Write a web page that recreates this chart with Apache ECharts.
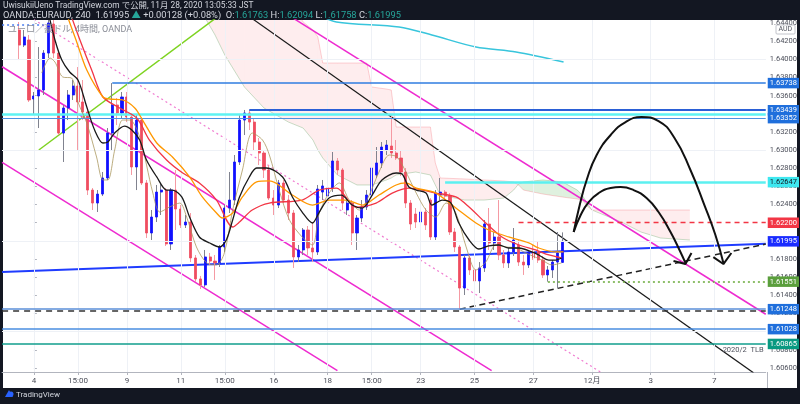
<!DOCTYPE html>
<html><head><meta charset="utf-8">
<script src="https://cdn.jsdelivr.net/npm/echarts@6/dist/echarts.min.js"></script>
<style>html,body{margin:0;padding:0;background:#131722;}#c{width:800px;height:404px;}</style>
</head><body><div id="c"></div>
<script>
// ---------- axes ----------
const firstIdx = -6, lastIdx = 149;
const timeLabelIdx  = [0, 9, 19, 30, 39, 49, 60, 69, 79, 90, 102, 114, 126, 139];
const timeLabelText = ['4','15:00','9','11','15:00','16','18','15:00','23','25','27','12月','3','7'];
const priceTicks = [1.606,1.608,1.610,1.612,1.614,1.616,1.618,1.620,1.622,1.624,1.626,1.628,1.630,1.632,1.634,1.636,1.638,1.640,1.642,1.644];
const yMin = 1.60556, yMax = 1.64433;

// ---------- candles (bar index candleStart .. ) ----------
const candleStart = -3;
const opens = [1.64323,1.64157,1.64213,1.63563,1.63596,1.63662,1.64069,1.64389,1.64069,1.63188,1.63464,1.63607,1.63706,1.63530,1.63419,1.62560,1.62417,1.62516,1.62693,1.63188,1.63497,1.63408,1.63585,1.63364,1.62814,1.63331,1.62638,1.62087,1.62263,1.62538,1.62560,1.61966,1.62560,1.62351,1.62175,1.62208,1.61812,1.61581,1.61515,1.61823,1.61778,1.61757,1.61933,1.62362,1.62450,1.62869,1.63331,1.63408,1.63309,1.63089,1.62968,1.62781,1.62472,1.62395,1.62638,1.62450,1.62307,1.61823,1.61900,1.62120,1.61922,1.61878,1.62538,1.62494,1.62582,1.62880,1.62781,1.62340,1.62417,1.62087,1.62252,1.62373,1.62505,1.62726,1.62858,1.63001,1.63045,1.62968,1.62913,1.62759,1.62417,1.62296,1.62208,1.62318,1.62450,1.62043,1.62505,1.62538,1.62494,1.62098,1.61933,1.61481,1.61812,1.61680,1.61559,1.61702,1.62186,1.61977,1.62043,1.61845,1.61757,1.61878,1.61955,1.61767,1.61735,1.61878,1.61878,1.61789,1.61625,1.61680,1.61767,1.61763];
const closes = [1.64157,1.64246,1.63552,1.63596,1.63662,1.64069,1.64400,1.64069,1.63188,1.63464,1.63607,1.63706,1.63530,1.63419,1.62560,1.62417,1.62516,1.62693,1.63188,1.63497,1.63408,1.63585,1.63364,1.62814,1.63331,1.62638,1.62087,1.62263,1.62538,1.62560,1.61966,1.62560,1.62351,1.62175,1.62208,1.61812,1.61581,1.61515,1.61823,1.61778,1.61757,1.61933,1.62362,1.62450,1.62869,1.63331,1.63408,1.63309,1.63089,1.62968,1.62781,1.62472,1.62395,1.62638,1.62450,1.62307,1.61823,1.61900,1.62120,1.61922,1.61878,1.62571,1.62605,1.62582,1.62880,1.62781,1.62417,1.62417,1.62087,1.62252,1.62373,1.62505,1.62803,1.62858,1.63034,1.63056,1.62968,1.62913,1.62759,1.62417,1.62186,1.62208,1.62318,1.62175,1.62043,1.62527,1.62538,1.62494,1.62098,1.61933,1.61481,1.61812,1.61680,1.61559,1.61702,1.62186,1.61977,1.62043,1.61845,1.61757,1.61878,1.62010,1.61767,1.61735,1.61878,1.61812,1.61789,1.61625,1.61680,1.61767,1.61867,1.61995];
const lows = [1.63992,1.64135,1.63530,1.63386,1.63243,1.63607,1.64014,1.64014,1.63166,1.62869,1.63331,1.63552,1.63001,1.63331,1.62505,1.62340,1.62318,1.62494,1.62671,1.63001,1.63276,1.63353,1.63309,1.62726,1.62560,1.62616,1.62032,1.62010,1.62208,1.62285,1.61944,1.61900,1.62120,1.62142,1.62142,1.61767,1.61548,1.61470,1.61493,1.61735,1.61570,1.61713,1.61878,1.62307,1.62395,1.62836,1.63166,1.63221,1.63001,1.62836,1.62693,1.62450,1.62285,1.62362,1.62417,1.62230,1.61702,1.61767,1.61845,1.61845,1.61767,1.61845,1.62450,1.62450,1.62538,1.62726,1.62340,1.62285,1.61955,1.61900,1.62208,1.62340,1.62472,1.62693,1.62803,1.62946,1.62913,1.62891,1.62715,1.62362,1.62120,1.62142,1.62142,1.62120,1.62010,1.62010,1.62450,1.62450,1.62065,1.61878,1.61248,1.61404,1.61625,1.61504,1.61426,1.61658,1.61900,1.61900,1.61789,1.61702,1.61702,1.61834,1.61724,1.61625,1.61702,1.61789,1.61757,1.61592,1.61551,1.61592,1.61481,1.61758];
const highs = [1.64411,1.64323,1.64268,1.63640,1.64135,1.64102,1.64433,1.64433,1.64102,1.63497,1.63662,1.63772,1.63915,1.63772,1.63464,1.62582,1.62560,1.62759,1.63243,1.63738,1.63574,1.63640,1.63640,1.63408,1.63386,1.63364,1.62671,1.62340,1.62616,1.62638,1.62582,1.62582,1.62781,1.62395,1.62285,1.62307,1.61845,1.61614,1.61900,1.61867,1.61845,1.61955,1.62395,1.62759,1.62946,1.63386,1.63442,1.63442,1.63353,1.63133,1.63001,1.62836,1.62560,1.62671,1.62671,1.62505,1.62340,1.61955,1.62142,1.62164,1.62208,1.62616,1.62671,1.62649,1.62979,1.62913,1.62803,1.62472,1.62450,1.62285,1.62450,1.62560,1.62836,1.63034,1.63089,1.63111,1.63386,1.63111,1.63001,1.62803,1.62450,1.62362,1.62362,1.62362,1.62472,1.62560,1.62693,1.62560,1.62527,1.62142,1.61955,1.61845,1.61845,1.61724,1.61767,1.62230,1.62362,1.62098,1.62450,1.61900,1.61922,1.62142,1.62010,1.61845,1.61900,1.61955,1.61988,1.61834,1.61724,1.61789,1.62098,1.62094];

// ---------- moving averages [bar index, price] ----------
const maBlack = [[3.0,1.6450],[4.3,1.64213],[5.7,1.63992],[7.3,1.63860],[9.0,1.63772],[10.8,1.63475],[12.4,1.63221],[14.1,1.63078],[15.1,1.63089],[16.5,1.63188],[18.5,1.63265],[20.0,1.63221],[21.6,1.63111],[23.0,1.62891],[25.1,1.62704],[27.1,1.62560],[28.3,1.62560],[30.2,1.62484],[31.8,1.62263],[33.8,1.62043],[35.9,1.61977],[37.9,1.61933],[39.3,1.62010],[40.6,1.62230],[42.0,1.62484],[44.0,1.62704],[45.5,1.62803],[47.5,1.62803],[50.8,1.62704],[52.8,1.62484],[54.8,1.62318],[56.9,1.62197],[58.3,1.62318],[60.3,1.62472],[62.8,1.62505],[65.0,1.62395],[67.1,1.62362],[69.1,1.62505],[71.1,1.62671],[74.0,1.62748],[75.2,1.62737],[76.6,1.62594],[78.1,1.62560],[80.1,1.62527],[81.3,1.62395],[83.4,1.62450],[85.2,1.62417],[86.8,1.62197],[88.9,1.62010],[90.9,1.61911],[92.9,1.61944],[95.0,1.61955],[97.0,1.61922],[99.1,1.61922],[101.7,1.61878],[103.1,1.61845],[105.2,1.61789],[106.6,1.61789],[107.8,1.61812]];
const maOrange = [[7.0,1.6445],[8.6,1.64213],[10.8,1.63882],[14.1,1.63585],[15.5,1.63563],[18.1,1.63552],[20.6,1.63464],[22.2,1.63331],[25.1,1.63078],[28.3,1.62924],[31.8,1.62704],[34.4,1.62484],[37.3,1.62307],[38.5,1.62252],[40.6,1.62307],[42.6,1.62484],[45.5,1.62649],[48.1,1.62660],[52.8,1.62505],[56.9,1.62395],[60.3,1.62450],[63.8,1.62450],[67.1,1.62395],[70.5,1.62505],[74.0,1.62616],[76.0,1.62638],[78.1,1.62582],[82.1,1.62527],[86.2,1.62362],[90.3,1.62197],[92.9,1.62120],[97.0,1.62043],[101.1,1.61977],[103.1,1.61922],[106.6,1.61878],[108.2,1.61878]];
const maRed = [[7.8,1.6445],[9.4,1.64213],[11.8,1.63882],[14.1,1.63585],[17.5,1.63464],[21.0,1.63353],[23.6,1.63111],[27.1,1.62891],[30.4,1.62748],[33.8,1.62638],[37.3,1.62450],[40.6,1.62153],[42.0,1.62208],[44.6,1.62340],[48.1,1.62417],[54.8,1.62450],[58.3,1.62560],[61.8,1.62582],[65.8,1.62373],[69.9,1.62417],[73.2,1.62527],[76.6,1.62582],[82.1,1.62527],[86.2,1.62484],[88.9,1.62373],[92.3,1.62197],[95.6,1.62043],[99.1,1.61955],[102.5,1.61900],[105.2,1.61845],[107.8,1.61812]];
const maKhaki = [[1.6,1.63849],[3.3,1.64014],[4.3,1.63970],[5.9,1.63805],[7.7,1.63794],[9.0,1.63530],[10.8,1.63298],[12.8,1.62924],[14.1,1.62671],[15.1,1.62671],[16.5,1.63001],[18.1,1.63331],[19.6,1.63331],[21.6,1.63144],[24.3,1.62527],[25.7,1.62318],[27.7,1.62373],[29.8,1.62417],[31.2,1.62263],[33.2,1.61933],[35.3,1.61757],[37.3,1.61735],[38.9,1.61867],[40.6,1.62340],[42.6,1.62781],[44.6,1.63188],[46.7,1.63111],[48.1,1.62946],[50.1,1.62560],[52.2,1.62230],[54.8,1.62043],[56.9,1.61955],[58.3,1.62307],[60.3,1.62527],[62.4,1.62638],[64.4,1.62450],[66.5,1.62340],[68.5,1.62505],[70.5,1.62759],[72.6,1.62946],[74.2,1.62924],[76.0,1.62759],[78.1,1.62527],[80.1,1.62340],[82.1,1.62263],[84.2,1.62417],[86.2,1.62307],[88.3,1.61933],[90.3,1.61680],[92.3,1.61767],[94.4,1.61955],[96.4,1.61933],[98.5,1.61922],[100.5,1.61867],[103.8,1.61789],[105.8,1.61735],[107.8,1.61757]];
const maCyan = [[58,1.6450],[61.8,1.64411],[74.6,1.64356],[81.3,1.64268],[90.3,1.64135],[98.5,1.64080],[108.2,1.63970]];

// ---------- ichimoku cloud ----------
const spanIdx = [35,37,39,43,47,52,55,57,58,59,62,66,68,69,72,73,74,78,81,82,83,88,92,96,98,99,100,104,108,111,112,113,114,116,120,124,128,134];
const spanB = [1.64708,1.64708,1.64708,1.64708,1.64708,1.64653,1.64411,1.64323,1.64246,1.63959,1.63959,1.63959,1.63959,1.63695,1.63673,1.63662,1.63254,1.63254,1.63254,1.62858,1.62693,1.62682,1.62671,1.62660,1.62649,1.62616,1.62560,1.62516,1.62483,1.62461,1.62450,1.62384,1.62340,1.62340,1.62340,1.62340,1.62340,1.62340];
const spanA = [1.64455,1.64268,1.64047,1.63695,1.63464,1.63309,1.63243,1.63111,1.63001,1.62913,1.62726,1.62616,1.62616,1.62616,1.62671,1.62693,1.62726,1.62759,1.62726,1.62616,1.62505,1.62450,1.62450,1.62472,1.62560,1.62626,1.62649,1.62671,1.62649,1.62560,1.62505,1.62417,1.62340,1.62296,1.62208,1.62098,1.62032,1.62010];

// ---------- drawings [bar index, price] ----------
const blackDiag   = [[44,1.64471],[147,1.60547]];
const magentaUp   = [[53,1.64452],[149.5,1.61192]];
const magentaMid  = [[-6.5,1.63918],[93.5,1.60570]];
const magentaLow  = [[-6.5,1.62864],[62,1.60570]];
const pinkDotted  = [[0,1.64438],[116,1.60547]];
const greenLine   = [[1,1.63001],[37.5,1.64468]];
const blueTrend   = [[-6.5,1.61657],[149.5,1.61969]];
const dashedRise  = [[87,1.61248],[149.5,1.61965]];
const arcBig   = [[110.27,1.62098],[111.5,1.62395],[112.92,1.62671],[114.96,1.62946],[117.82,1.63166],[120.87,1.63309],[124.13,1.63364],[127.6,1.63320],[130.86,1.63133],[134.12,1.62781],[136.97,1.62395],[139.22,1.62065],[140.85,1.61757]];
const arcSmall = [[110.27,1.62098],[111.7,1.62285],[113.33,1.62428],[115.37,1.62527],[117.82,1.62582],[119.85,1.62593],[122.5,1.62560],[125.15,1.62472],[127.6,1.62318],[130.05,1.62098],[131.88,1.61900],[133.1,1.61757]];
const headBig   = [[138.8,1.61822],[140.85,1.61745],[142.48,1.61867]];
const headSmall = [[130.66,1.61778],[133.1,1.61745],[134.33,1.61867]];

// ---------- horizontal levels ----------
const levelPrices = [1.63738,1.63439,1.63390,1.63352,1.62647,1.62200,1.61551,1.61248,1.61232,1.61028,1.60865,1.64378];
const levelStart  = [16,44,-6.5,-6.5,84,99,105,-6.5,-6.5,-6.5,-6.5,-6.5];
const levelEnd    = [149.5,149.5,149.5,149.5,149.5,149.5,149.5,149.5,149.5,149.5,149.5,2];
const levelNote = '2020/2  TLB';

// ---------- styles ----------
const levelStyles = [
  {c:'#2f7de1', w:1.5, t:'solid', bg:'#1f6fdc', fg:'#fff'},
  {c:'#2a5fd6', w:2,   t:'solid', bg:'#1f6fdc', fg:'#fff'},
  {c:'#5ef3f3', w:2.5, t:'solid', bg:null},
  {c:'#4a90e2', w:1,   t:'solid', bg:'#1f6fdc', fg:'#fff'},
  {c:'#5cf0f0', w:2.5, t:'solid', bg:'#3ee8f0', fg:'#131722'},
  {c:'#f23645', w:1.3, t:[5,4],   bg:'#f23645', fg:'#fff'},
  {c:'#6aaa3a', w:1.5, t:[2,3],   bg:'#5a9e3c', fg:'#fff'},
  {c:'#5b8fd9', w:1.5, t:'solid', bg:'#1f6fdc', fg:'#fff'},
  {c:'#333333', w:1.5, t:[6,5],   bg:null},
  {c:'#4a8ee0', w:1.5, t:'solid', bg:'#1f6fdc', fg:'#fff'},
  {c:'#119e8c', w:1.5, t:'solid', bg:'#089981', fg:'#fff'},
  {c:'#4a7df0', w:1.5, t:[2,3],   bg:null}
];
const UP='#1010ff', DOWN='#ef4d60', UPW='#80838f', DOWNW='#f59aa3';
const FONT = 'Roboto, "Noto Sans CJK JP", sans-serif';
const CLEAR = 'rgba(0,0,0,0)';

// ---------- build ----------
const cats = [];
for (let i = firstIdx; i <= lastIdx; i++) cats.push(String(i));
const labelMap = {};
timeLabelIdx.forEach((k, j) => labelMap[String(k)] = timeLabelText[j]);
const isLabel = (index, value) => labelMap[value] !== undefined;

const wickData = cats.map(c => {
  const k = +c - candleStart;
  return (k >= 0 && k < opens.length) ? [opens[k], closes[k], lows[k], highs[k]] : '-';
});
const bodyData = cats.map(c => {
  const k = +c - candleStart;
  return (k >= 0 && k < opens.length) ? [opens[k], closes[k], Math.min(opens[k], closes[k]), Math.max(opens[k], closes[k])] : '-';
});
const n = opens.length;
const lastClose = closes[n-1], prevClose = closes[n-2];
const chg = lastClose - prevClose;

const segs = [];
for (let j = 0; j < spanIdx.length - 1; j++) {
  segs.push([spanIdx[j], spanA[j], spanB[j], spanIdx[j+1], spanA[j+1], spanB[j+1]]);
}

function lineSeries(data, color, width, type, extra) {
  return Object.assign({
    type:'line', xAxisIndex:1, yAxisIndex:0, data, symbol:'none', silent:true, clip:true,
    lineStyle:{color, width, type: type || 'solid'}, z:3
  }, extra || {});
}

const tagLabel = (txt, bg, fg) => ({show:true, position:'end', distance:2, formatter:txt, backgroundColor:bg, color:fg,
  fontSize:7.5, padding:[2,2,1,2], fontFamily:FONT});

const levelLines = [];
levelPrices.forEach((p, j) => {
  const s = levelStyles[j];
  levelLines.push([
    {coord:[levelStart[j], p], lineStyle:{color:s.c, width:s.w, type:s.t},
     label: s.bg ? tagLabel(p.toFixed(5), s.bg, s.fg) : {show:false}},
    {coord:[levelEnd[j], p]}
  ]);
});
levelLines.push([
  {coord:[108, lastClose], lineStyle:{color:CLEAR, width:1}, label:tagLabel(lastClose.toFixed(5), '#1a2cff', '#fff')},
  {coord:[149.5, lastClose]}
]);
levelLines.push([
  {coord:[-6.5, levelPrices[10]], lineStyle:{color:CLEAR, width:1},
   label:{show:true, position:'insideEndBottom', distance:2, formatter:levelNote, color:'#50535e', fontSize:7.5, fontFamily:FONT}},
  {coord:[149.5, levelPrices[10]]}
]);

const gridLines = timeLabelIdx.map(k => ({xAxis:k})).concat(priceTicks.map(p => ({yAxis:p})));

const g = '#26a69a';
const header2 = `{w|OANDA:EURAUD, 240  ${lastClose.toFixed(5)} }{g|▲}{w| ${chg>=0?'+':''}${chg.toFixed(5)} (${chg>=0?'+':''}${(chg/prevClose*100).toFixed(2)}%)  O:}{g|${opens[n-1].toFixed(5)}}{w| H:}{g|${highs[n-1].toFixed(5)}}{w| L:}{g|${lows[n-1].toFixed(5)}}{w| C:}{g|${closes[n-1].toFixed(5)}}`;

const option = {
  animation:false,
  backgroundColor:'#131722',
  textStyle:{fontFamily:FONT},
  title:[
    {text:'UwisukiiUeno TradingView.com で公開, 11月 28, 2020 13:05:33 JST', left:3, top:1.5, padding:0,
     textStyle:{color:'#d1d4dc', fontSize:8.4, fontWeight:'normal', fontFamily:FONT}},
    {text:header2, left:3, top:11, padding:0,
     textStyle:{fontSize:9.3, fontWeight:'normal', fontFamily:FONT, rich:{w:{color:'#d1d4dc', fontSize:9.3, fontFamily:FONT}, g:{color:g, fontSize:9.3, fontFamily:FONT}}}}
  ],
  graphic:[
    {type:'rect', z:-10, shape:{x:3, y:20, width:794, height:368}, style:{fill:'#ffffff'}},
    {type:'line', z:10, shape:{x1:767.5, y1:372, x2:767.5, y2:388}, style:{stroke:'#b2b5be', lineWidth:1}},
    {type:'text', z:50, x:8, y:25, style:{text:'ユーロ／豪ドル, 4時間, OANDA', fill:'#8a8d97', font:'9px '+FONT}},
    {type:'rect', z:10, shape:{x:776, y:25, width:19, height:9, r:1}, style:{fill:'#fff', stroke:'#b2b5be', lineWidth:0.8}},
    {type:'text', z:11, x:778.5, y:26, style:{text:'AUD', fill:'#50535e', font:'7px '+FONT}},
    {type:'polygon', z:10, shape:{points:[[5,397],[9,390],[13,397]]}, style:{fill:'#2962ff'}},
    {type:'circle', z:10, shape:{cx:11,cy:394,r:2.5}, style:{fill:'#2962ff'}},
    {type:'text', z:10, x:16, y:391, style:{text:'TradingView', fill:'#d1d4dc', font:'8px '+FONT}}
  ],
  grid:{left:2.1, right:32.6, top:20, bottom:32, containLabel:false},
  xAxis:[
    {type:'category', data:cats, boundaryGap:true,
     axisLine:{lineStyle:{color:'#b2b5be'}},
     axisTick:{show:true, interval:isLabel, alignWithLabel:true, length:3, lineStyle:{color:'#b2b5be'}},
     axisLabel:{interval:isLabel, formatter:v => labelMap[v] || '', color:'#4c4f5a', fontSize:8, margin:5, fontFamily:FONT},
     splitLine:{show:false}},
    {type:'value', min:-6.5, max:149.5, show:false}
  ],
  yAxis:{type:'value', position:'right', min:yMin, max:yMax, scale:true,
    axisLine:{show:true, lineStyle:{color:'#b2b5be'}},
    axisTick:{show:true, customValues:priceTicks, length:3, lineStyle:{color:'#b2b5be'}},
    axisLabel:{customValues:priceTicks, formatter:v => v.toFixed(5), color:'#4c4f5a', fontSize:7.5, margin:4, fontFamily:FONT},
    splitLine:{show:false}},
  series:[
    {type:'line', xAxisIndex:1, yAxisIndex:0, data:[], z:0, silent:true,
     markLine:{silent:true, symbol:['none','none'], animation:false, label:{show:false}, lineStyle:{color:'#eef1f6', width:1, type:'solid'}, data:gridLines}},
    {type:'custom', xAxisIndex:1, yAxisIndex:0, z:1, silent:true, clip:true, data:segs,
     renderItem:(params, api) => {
       const x0=api.value(0), a0=api.value(1), b0=api.value(2), x1=api.value(3), a1=api.value(4), b1=api.value(5);
       const bear = (b0 + b1) >= (a0 + a1);
       return {type:'polygon', shape:{points:[api.coord([x0,a0]), api.coord([x1,a1]), api.coord([x1,b1]), api.coord([x0,b0])]},
               style:{fill: bear ? 'rgba(242,54,69,0.09)' : 'rgba(110,190,110,0.22)'}};
     }},
    lineSeries(spanIdx.map((k,j)=>[k,spanA[j]]), 'rgba(120,175,120,0.4)', 1, 'solid', {z:1}),
    lineSeries(spanIdx.map((k,j)=>[k,spanB[j]]), 'rgba(242,54,69,0.22)', 1, 'solid', {z:1}),
    {type:'line', xAxisIndex:1, yAxisIndex:0, data:[], z:4, silent:true,
     markLine:{silent:true, symbol:['none','none'], animation:false, data:levelLines}},
    lineSeries(magentaUp, '#ee2bd0', 1.5),
    lineSeries(magentaMid, '#ee2bd0', 1.5),
    lineSeries(magentaLow, '#ee2bd0', 1.5),
    lineSeries(pinkDotted, '#f07ad0', 1.2, [2,3]),
    lineSeries(greenLine, '#7ed321', 1.5),
    lineSeries(blackDiag, '#1a1a1a', 1.2),
    lineSeries(blueTrend, '#1f3cff', 2),
    lineSeries(dashedRise, '#222222', 1.5, [6,4]),
    lineSeries(maCyan, '#38c5dc', 1.5, 'solid', {smooth:0.3}),
    lineSeries(maKhaki, 'rgba(165,145,85,0.75)', 1, 'solid', {smooth:0.3, z:5}),
    lineSeries(maRed, '#f23645', 1.3, 'solid', {smooth:0.3, z:5}),
    lineSeries(maOrange, '#ff9800', 1.3, 'solid', {smooth:0.3, z:5}),
    lineSeries(maBlack, '#1a1a1a', 1.3, 'solid', {smooth:0.3, z:6}),
    {type:'candlestick', xAxisIndex:0, yAxisIndex:0, data:wickData, barWidth:1, z:4, silent:true, clip:true,
     itemStyle:{color:UPW, color0:DOWNW, borderColor:UPW, borderColor0:DOWNW, borderWidth:1}},
    {type:'candlestick', xAxisIndex:0, yAxisIndex:0, data:bodyData, barWidth:2.6, z:4, silent:true, clip:true,
     itemStyle:{color:UP, color0:DOWN, borderColor:UP, borderColor0:DOWN, borderWidth:0.8}},
    lineSeries(arcBig, '#111111', 2, 'solid', {smooth:0.5, z:7}),
    lineSeries(arcSmall, '#111111', 2, 'solid', {smooth:0.5, z:7}),
    lineSeries(headBig, '#111111', 2, 'solid', {z:7}),
    lineSeries(headSmall, '#111111', 2, 'solid', {z:7})
  ]
};
const chart = echarts.init(document.getElementById('c'));
chart.setOption(option);
</script></body></html>
